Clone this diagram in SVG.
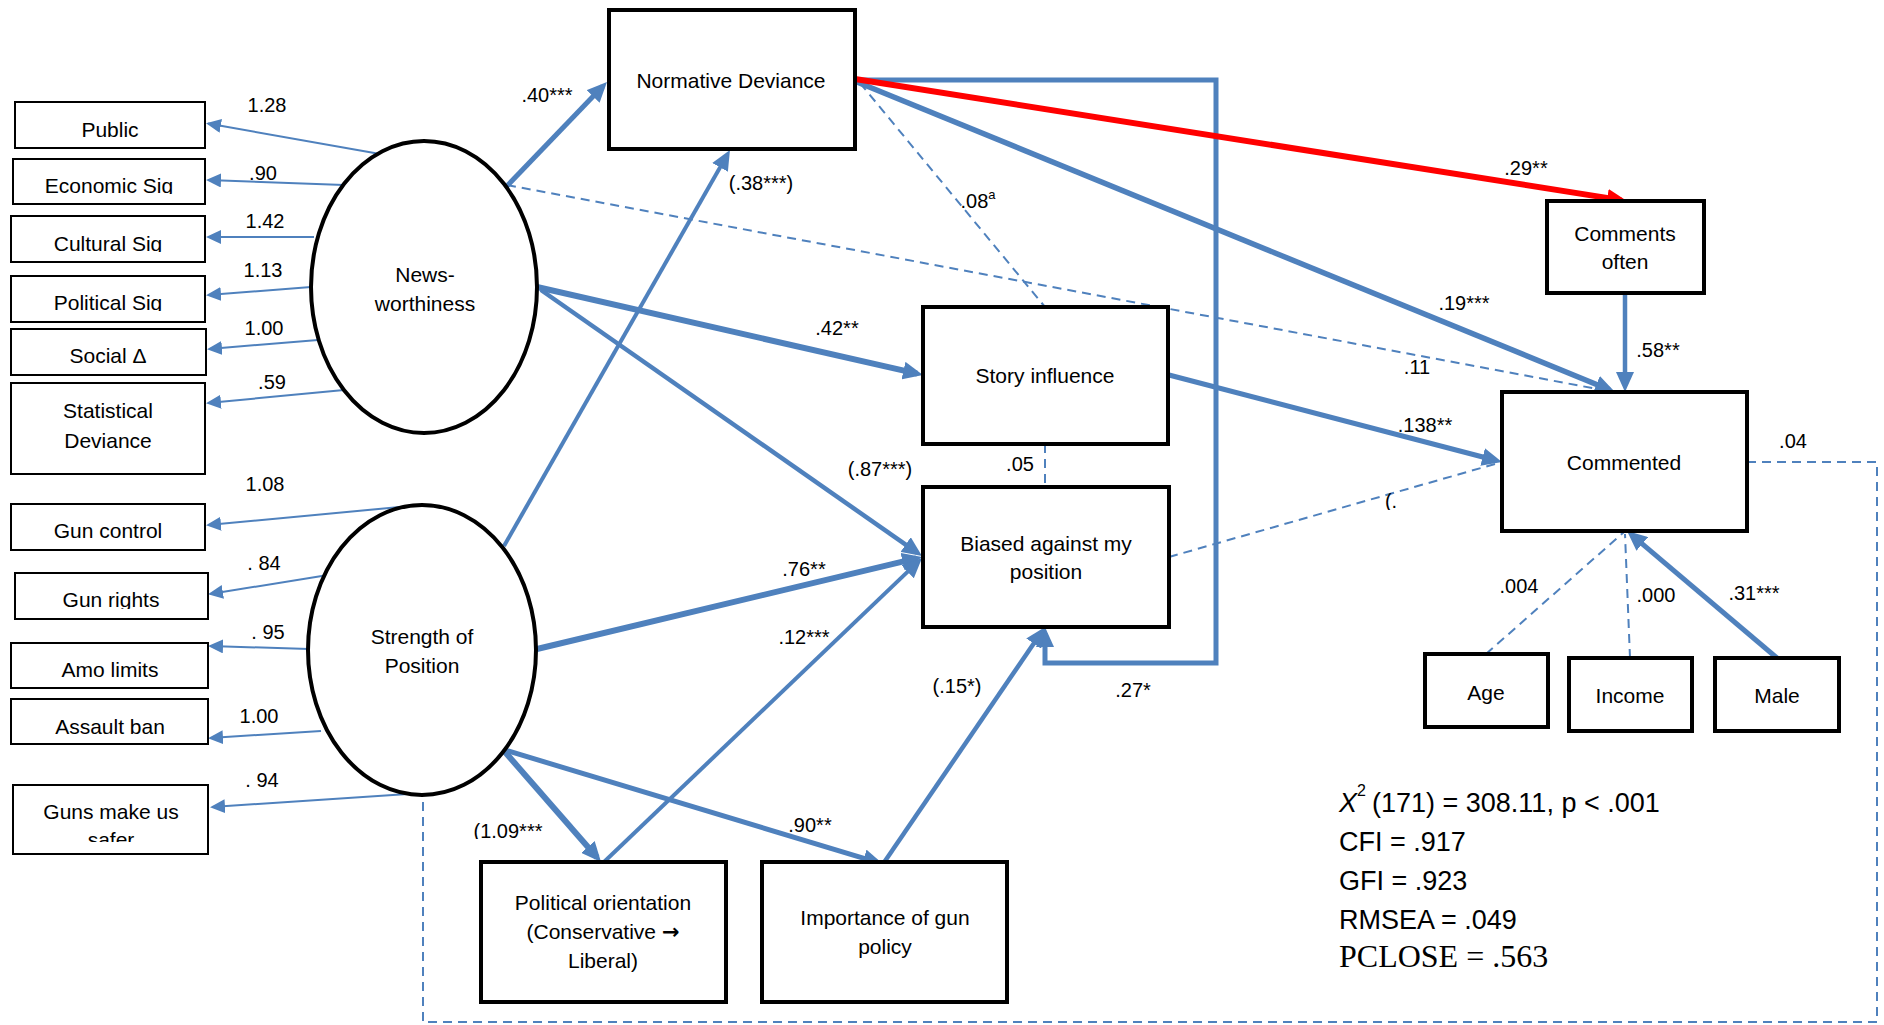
<svg xmlns="http://www.w3.org/2000/svg" width="1884" height="1025" viewBox="0 0 1884 1025">
<style>
.bg{fill:#fff}
.n{fill:#fff;stroke:#000;stroke-width:4}
.i{fill:#fff;stroke:#000;stroke-width:2}
.e{fill:#fff;stroke:#000;stroke-width:4}
.t{font-family:"Liberation Sans",Arial,sans-serif;font-size:21px;text-anchor:middle;fill:#000}
.l{font-family:"Liberation Sans",Arial,sans-serif;font-size:20px;text-anchor:middle;fill:#000}
.f{font-family:"Liberation Sans",Arial,sans-serif;font-size:27px;fill:#000}
.fs{font-family:"Liberation Serif","Times New Roman",serif;font-size:32px;fill:#000}
.c{fill:none;stroke:#4F81BD;stroke-linejoin:miter}
.thin{stroke-width:2;marker-end:url(#ah)}
.d{stroke-width:2;stroke-dasharray:9 6}
.red{fill:none;stroke:#FF0000;stroke-width:6;marker-end:url(#ahr)}
</style>
<defs>
<marker id="ah" markerUnits="userSpaceOnUse" markerWidth="15" markerHeight="14" refX="13" refY="7" orient="auto" viewBox="0 0 15 14">
<path d="M0,0 L15,7 L0,14 z" fill="#4F81BD"/>
</marker>
<marker id="AH" markerUnits="userSpaceOnUse" markerWidth="20" markerHeight="18" refX="14" refY="9" orient="auto" viewBox="0 0 20 18">
<path d="M0,0 L20,9 L0,18 z" fill="#4F81BD"/>
</marker>
<marker id="ahr" markerUnits="userSpaceOnUse" markerWidth="20" markerHeight="18" refX="14" refY="9" orient="auto" viewBox="0 0 20 18">
<path d="M0,0 L20,9 L0,18 z" fill="#FF0000"/>
</marker>
<clipPath id="cEcon"><rect x="13" y="159" width="192" height="35"/></clipPath>
<clipPath id="cCult"><rect x="11" y="216" width="194" height="36"/></clipPath>
<clipPath id="cPol"><rect x="11" y="276" width="194" height="35"/></clipPath>
<clipPath id="cRights"><rect x="15" y="573" width="193" height="36"/></clipPath>
<clipPath id="cSafer"><rect x="13" y="785" width="195" height="57"/></clipPath>
<clipPath id="c109"><rect x="450" y="810" width="120" height="29"/></clipPath>
<clipPath id="cParen"><rect x="1375" y="485" width="40" height="25"/></clipPath>
</defs>
<rect class="bg" x="0" y="0" width="1884" height="1025"/>

<g id="connectors">
<!-- frame ND -> Biased -->
<path class="c" stroke-width="5" marker-end="url(#AH)" d="M855,80 H1216 V663 H1045 V633"/>
<!-- indicator loadings -->
<path class="c thin" d="M380,154 L208,123.5"/>
<path class="c thin" d="M344,185 L208,180"/>
<path class="c thin" d="M314,237 L208,237"/>
<path class="c thin" d="M311,287 L208,295"/>
<path class="c thin" d="M318,340 L209,349"/>
<path class="c thin" d="M344,390 L208,403"/>
<path class="c thin" d="M421,505 L208,525"/>
<path class="c thin" d="M328,575 L210,594"/>
<path class="c thin" d="M309,649 L210,646"/>
<path class="c thin" d="M321,731 L210,738"/>
<path class="c thin" d="M423,793 L212,807"/>
<!-- dashed paths -->
<path class="c d" d="M507,185 L1608,391"/>
<path class="c d" d="M860,83 L1045,307"/>
<path class="c d" d="M1045,444 L1045,487"/>
<path class="c d" d="M1169,557 L1502,462"/>
<path class="c d" d="M1486,654 L1624,532"/>
<path class="c d" d="M1630,658 L1625,534"/>
<path class="c d" d="M1747,462 H1877 V1022 H423 V793"/>
<!-- structural paths -->
<path class="c" stroke-width="5" marker-end="url(#AH)" d="M507,186 L602.8,86.3"/>
<path class="c" stroke-width="4" marker-end="url(#AH)" d="M504,546 L727,155.2"/>
<path class="c" stroke-width="6" marker-end="url(#AH)" d="M537,287 L917.1,373.7"/>
<path class="c" stroke-width="4.5" marker-end="url(#AH)" d="M541,290 L917.1,552.6"/>
<path class="c" stroke-width="6" marker-end="url(#AH)" d="M537,649 L916.2,558.4"/>
<path class="c" stroke-width="4" marker-end="url(#AH)" d="M604,862 L917.7,562.1"/>
<path class="c" stroke-width="6" marker-end="url(#AH)" d="M505,752 L597.1,857.5"/>
<path class="c" stroke-width="5" marker-end="url(#AH)" d="M505,750 L877.3,862.3"/>
<path class="c" stroke-width="4.5" marker-end="url(#AH)" d="M883,864 L1041.6,632"/>
<path class="c" stroke-width="5.5" marker-end="url(#AH)" d="M857,82 L1609.4,389.7"/>
<path class="red" d="M855,79 L1621.1,200.1"/>
<path class="c" stroke-width="5" marker-end="url(#AH)" d="M1169,375 L1496.2,460.5"/>
<path class="c" stroke-width="4.5" marker-end="url(#AH)" d="M1625,293 L1625,386"/>
<path class="c" stroke-width="5" marker-end="url(#AH)" d="M1777,658 L1631.6,534.9"/>
<!-- labels -->
<g class="l">
<text x="267" y="112">1.28</text>
<text x="263" y="180">.90</text>
<text x="265" y="228">1.42</text>
<text x="263" y="277">1.13</text>
<text x="264" y="335">1.00</text>
<text x="272" y="389">.59</text>
<text x="265" y="491">1.08</text>
<text x="264" y="570">. 84</text>
<text x="268" y="639">. 95</text>
<text x="259" y="723">1.00</text>
<text x="262" y="787">. 94</text>
<text x="547" y="102">.40***</text>
<text x="761" y="190">(.38***)</text>
<text x="837" y="335">.42**</text>
<text x="880" y="476">(.87***)</text>
<text x="1020" y="471">.05</text>
<text x="804" y="576">.76**</text>
<text x="804" y="644">.12***</text>
<text x="957" y="693">(.15*)</text>
<text x="1133" y="697">.27*</text>
<text x="508" y="838" clip-path="url(#c109)">(1.09***</text>
<text x="810" y="832">.90**</text>
<text x="978" y="208">.08<tspan font-size="13" dy="-9">a</tspan></text>
<text x="1526" y="175">.29**</text>
<text x="1464" y="310">.19***</text>
<text x="1658" y="357">.58**</text>
<text x="1417" y="374">.11</text>
<text x="1425" y="432">.138**</text>
<text x="1793" y="448">.04</text>
<text x="1391" y="508" clip-path="url(#cParen)">(.</text>
<text x="1519" y="593">.004</text>
<text x="1656" y="602">.000</text>
<text x="1754" y="600">.31***</text>
</g>
</g>

<g id="public"><rect class="i" x="15" y="102" width="190" height="46"/><text class="t" x="110" y="137">Public</text></g>
<g id="economic"><rect class="i" x="13" y="159" width="192" height="45"/><text class="t" x="109" y="193" clip-path="url(#cEcon)">Economic Sig</text></g>
<g id="cultural"><rect class="i" x="11" y="216" width="194" height="46"/><text class="t" x="108" y="251" clip-path="url(#cCult)">Cultural Sig</text></g>
<g id="political"><rect class="i" x="11" y="276" width="194" height="46"/><text class="t" x="108" y="310" clip-path="url(#cPol)">Political Sig</text></g>
<g id="social"><rect class="i" x="11" y="329" width="195" height="46"/><text class="t" x="108" y="363">Social Δ</text></g>
<g id="statistical"><rect class="i" x="11" y="383" width="194" height="91"/><text class="t" x="108" y="418">Statistical</text><text class="t" x="108" y="448">Deviance</text></g>
<g id="guncontrol"><rect class="i" x="11" y="504" width="194" height="46"/><text class="t" x="108" y="538">Gun control</text></g>
<g id="gunrights"><rect class="i" x="15" y="573" width="193" height="46"/><text class="t" x="111" y="607" clip-path="url(#cRights)">Gun rights</text></g>
<g id="amolimits"><rect class="i" x="11" y="643" width="197" height="45"/><text class="t" x="110" y="677">Amo limits</text></g>
<g id="assaultban"><rect class="i" x="11" y="699" width="197" height="45"/><text class="t" x="110" y="734">Assault ban</text></g>
<g id="gunssafer"><rect class="i" x="13" y="785" width="195" height="69"/><g clip-path="url(#cSafer)"><text class="t" x="111" y="819">Guns make us</text><text class="t" x="111" y="847">safer</text></g></g>

<g id="newsworthiness"><ellipse class="e" cx="424" cy="287" rx="113" ry="146"/><text class="t" x="425" y="282">News-</text><text class="t" x="425" y="311">worthiness</text></g>
<g id="strength"><ellipse class="e" cx="422" cy="650" rx="114" ry="145"/><text class="t" x="422" y="644">Strength of</text><text class="t" x="422" y="673">Position</text></g>

<g id="normative"><rect class="n" x="609" y="10" width="246" height="139"/><text class="t" x="731" y="88">Normative Deviance</text></g>
<g id="story"><rect class="n" x="923" y="307" width="245" height="137"/><text class="t" x="1045" y="383">Story influence</text></g>
<g id="biased"><rect class="n" x="923" y="487" width="246" height="140"/><text class="t" x="1046" y="551">Biased against my</text><text class="t" x="1046" y="579">position</text></g>
<g id="commentsoften"><rect class="n" x="1547" y="201" width="157" height="92"/><text class="t" x="1625" y="241">Comments</text><text class="t" x="1625" y="269">often</text></g>
<g id="commented"><rect class="n" x="1502" y="392" width="245" height="139"/><text class="t" x="1624" y="470">Commented</text></g>
<g id="polorient"><rect class="n" x="481" y="862" width="245" height="140"/><text class="t" x="603" y="910">Political orientation</text><text class="t" x="603" y="939">(Conservative <tspan font-family="'DejaVu Sans',sans-serif" font-weight="bold">→</tspan></text><text class="t" x="603" y="968">Liberal)</text></g>
<g id="importance"><rect class="n" x="762" y="862" width="245" height="140"/><text class="t" x="885" y="925">Importance of gun</text><text class="t" x="885" y="954">policy</text></g>
<g id="age"><rect class="n" x="1425" y="654" width="123" height="73"/><text class="t" x="1486" y="700">Age</text></g>
<g id="income"><rect class="n" x="1569" y="658" width="123" height="73"/><text class="t" x="1630" y="703">Income</text></g>
<g id="male"><rect class="n" x="1715" y="658" width="124" height="73"/><text class="t" x="1777" y="703">Male</text></g>

<g id="fitstats">
<text class="f" x="1339" y="812"><tspan font-style="italic">X</tspan><tspan font-size="16" dy="-16">2</tspan><tspan x="1372" dy="16">(171) = 308.11, p &lt; .001</tspan></text>
<text class="f" x="1339" y="851">CFI = .917</text>
<text class="f" x="1339" y="890">GFI = .923</text>
<text class="f" x="1339" y="929">RMSEA = .049</text>
<text class="fs" x="1339" y="967">PCLOSE = .563</text>
</g>
</svg>
